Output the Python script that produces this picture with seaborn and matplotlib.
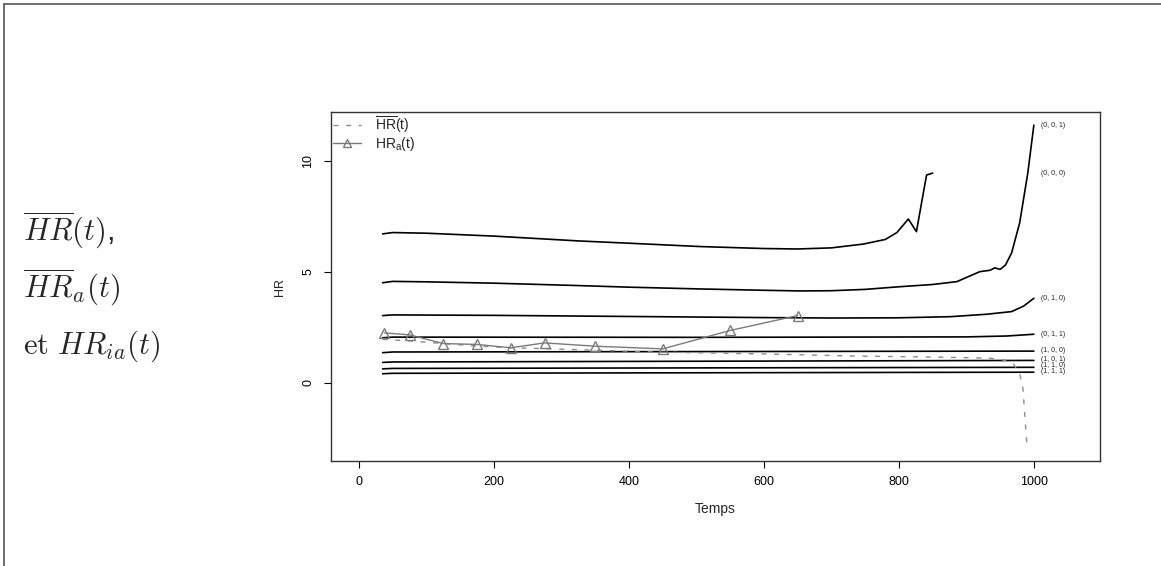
import numpy as np
import pandas as pd
import matplotlib.pyplot as plt
import seaborn as sns
from matplotlib.lines import Line2D

# courbes HR_i(t) par profil (x1, x2, x3)
t_000 = [35, 50, 100, 200, 327, 400, 505, 600, 650, 700, 747, 780, 797, 814, 826, 833, 841, 850]
hr_000 = [6.70, 6.76, 6.73, 6.60, 6.38, 6.28, 6.13, 6.04, 6.02, 6.07, 6.24, 6.45, 6.76, 7.37, 6.80, 8.00, 9.35, 9.44]

t_001 = [35, 50, 100, 200, 327, 400, 505, 600, 653, 700, 750, 801, 850, 886, 920, 935, 942, 950, 958, 967, 979, 991, 1000]
hr_001 = [4.50, 4.56, 4.54, 4.48, 4.37, 4.30, 4.22, 4.16, 4.13, 4.14, 4.20, 4.32, 4.42, 4.55, 5.00, 5.06, 5.17, 5.10, 5.30, 5.84, 7.20, 9.44, 11.60]

t_010 = [35, 50, 200, 400, 600, 700, 800, 876, 930, 967, 985, 1000]
hr_010 = [3.02, 3.05, 3.03, 2.98, 2.93, 2.91, 2.92, 2.97, 3.08, 3.20, 3.45, 3.80]

t_011 = [35, 50, 500, 900, 960, 1000]
hr_011 = [2.02, 2.05, 2.04, 2.06, 2.10, 2.18]

t_flat = [35, 50, 1000]
hr_100 = [1.35, 1.38, 1.42]
hr_101 = [0.91, 0.93, 1.00]
hr_110 = [0.62, 0.64, 0.69]
hr_111 = [0.40, 0.42, 0.47]

profils = ["(0, 0, 0)", "(0, 0, 1)", "(0, 1, 0)", "(0, 1, 1)",
           "(1, 0, 0)", "(1, 0, 1)", "(1, 1, 0)", "(1, 1, 1)"]
label_y = [9.44, 11.6, 3.8, 2.18, 1.44, 1.06, 0.78, 0.48]

# HR moyen (pointillé) et HR_a (triangles)
t_moy = [35, 75, 125, 175, 225, 275, 350, 450, 550, 650, 730, 800, 876, 935, 955, 969, 979, 984, 987, 990]
hr_moy = [1.95, 1.88, 1.76, 1.65, 1.57, 1.53, 1.46, 1.37, 1.32, 1.26, 1.20, 1.17, 1.14, 1.10, 1.02, 0.87, 0.43, -0.33, -1.68, -2.90]

t_a = [37.5, 75, 125, 175, 225, 275, 350, 450, 550, 650]
hr_a = [2.24, 2.15, 1.76, 1.72, 1.57, 1.79, 1.64, 1.52, 2.35, 3.02]

sns.set_style("white")
plt.rcParams['font.family'] = ['Liberation Sans', 'DejaVu Sans']
plt.rcParams['mathtext.fontset'] = 'custom'
plt.rcParams['mathtext.rm'] = 'Liberation Sans'
plt.rcParams['mathtext.it'] = 'Liberation Sans:italic'
plt.rcParams['mathtext.bf'] = 'Liberation Sans:bold'

fig = plt.figure(figsize=(11.61, 5.66), dpi=100)
ax = fig.add_axes([331 / 1161, 1 - 461 / 566, (1100 - 331) / 1161, (461 - 112) / 566])

courbes = [(t_000, hr_000), (t_001, hr_001), (t_010, hr_010), (t_011, hr_011),
           (t_flat, hr_100), (t_flat, hr_101), (t_flat, hr_110), (t_flat, hr_111)]
for t, hr in courbes:
    sns.lineplot(x=t, y=hr, ax=ax, color='black', linewidth=1.2,
                 estimator=None, sort=False)

for nom, y in zip(profils, label_y):
    ax.text(1010, y, nom, fontsize=5, va='center', ha='left', color='#222222')

sns.lineplot(x=t_moy, y=hr_moy, ax=ax, color='#8c8c8c', linewidth=1.0,
             linestyle=(0, (3.6, 5.5)), estimator=None, sort=False)
sns.lineplot(x=t_a, y=hr_a, ax=ax, color='#7a7a7a', linewidth=1.0,
             marker='^', markersize=7.5, markerfacecolor='none',
             markeredgecolor='#7a7a7a', markeredgewidth=1.0,
             estimator=None, sort=False)

ax.set_xlim(-41.5, 1098)
ax.set_ylim(-3.53, 12.19)
ax.set_xticks([0, 200, 400, 600, 800, 1000])
ax.set_yticks([0, 5, 10])
ax.tick_params(axis='both', direction='out', length=5, width=0.8,
               labelsize=9, colors='black', bottom=True, left=True)
ax.tick_params(axis='x', pad=6)
ax.tick_params(axis='y', pad=7, labelrotation=90)
for lab in ax.get_yticklabels():
    lab.set_va('center')
for sp in ax.spines.values():
    sp.set_color('#333333')
    sp.set_linewidth(1.0)
ax.set_xlabel('Temps', fontsize=10, labelpad=10)
ax.set_ylabel('HR', fontsize=9, labelpad=12)

poignees = [Line2D([], [], color='#8c8c8c', linewidth=1.0, linestyle=(0, (3.6, 5.5))),
            Line2D([], [], color='#7a7a7a', linewidth=1.0, marker='^', markersize=6,
                   markerfacecolor='none', markeredgecolor='#7a7a7a')]
ax.legend(poignees, [r'$\overline{\mathrm{HR}}$(t)', r'HR$_{\mathrm{a}}$(t)'],
          loc='upper left', bbox_to_anchor=(0, 1), frameon=False, fontsize=10,
          borderaxespad=0.1, borderpad=0.05, handlelength=2.0, handletextpad=1.0,
          labelspacing=0.0)

# texte de la colonne de gauche
fig.text(23 / 1161, 1 - 241 / 566, r'$\overline{HR}(t)$,', fontsize=22,
         math_fontfamily='cm', va='baseline', ha='left')
fig.text(23 / 1161, 1 - 298 / 566, r'$\overline{HR}_a(t)$', fontsize=22,
         math_fontfamily='cm', va='baseline', ha='left')
fig.text(23 / 1161, 1 - 354 / 566, r'$\mathrm{et}\ HR_{ia}(t)$', fontsize=22,
         math_fontfamily='cm', va='baseline', ha='left')

# bordure du tableau
fig.add_artist(Line2D([4 / 1161, 4 / 1161], [0, 1 - 3.5 / 566], color='#555555', linewidth=1.2))
fig.add_artist(Line2D([4 / 1161, 1], [1 - 3.5 / 566, 1 - 3.5 / 566], color='#555555', linewidth=1.2))

fig.savefig('out.png', dpi=100)
